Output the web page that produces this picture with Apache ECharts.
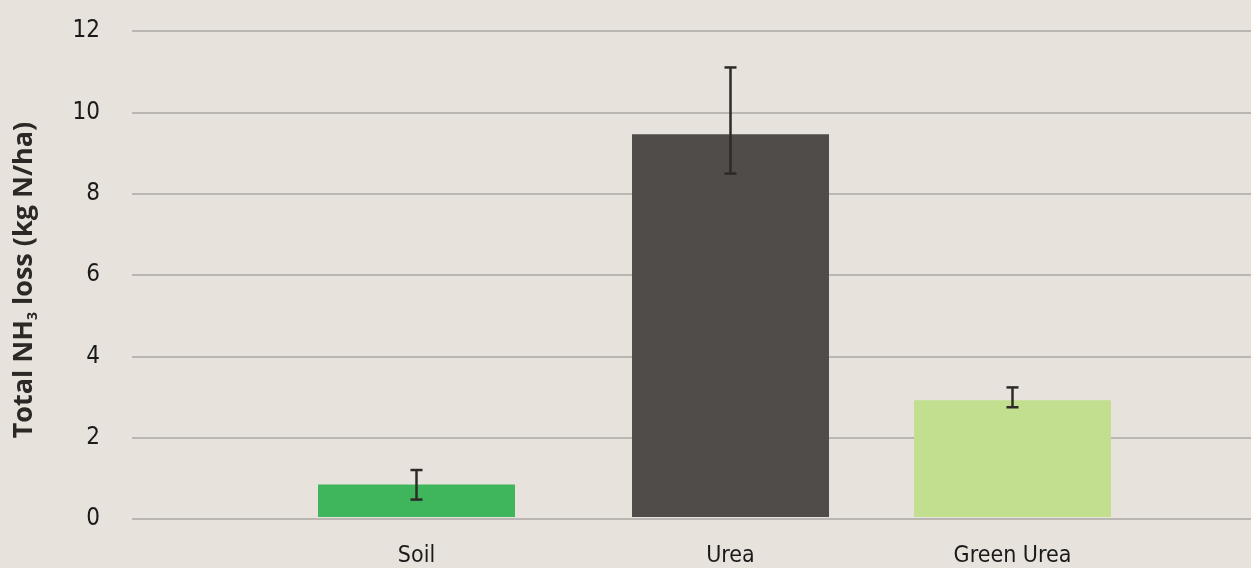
<!DOCTYPE html>
<html>
<head>
<meta charset="utf-8">
<script src="https://cdn.jsdelivr.net/npm/echarts@6/dist/echarts.min.js"></script>
<style>
html,body{margin:0;padding:0;background:#e8e2dc;}
#chart{width:1251px;height:568px;}
</style>
</head>
<body>
<div id="chart"></div>
<script>
// ---- data ----
const categories = ['Soil', 'Urea', 'Green Urea'];
const lossValues = [0.8, 9.45, 2.88];
const errLow = [0.43, 8.48, 2.71];
const errHigh = [1.16, 11.1, 3.2];
const yTicks = [0, 2, 4, 6, 8, 10, 12];

// ---- styles / layout ----
const barColors = ['#3fb65c', '#4f4c49', '#c2de8f'];
const labelFont = "'Liberation Sans Narrow', 'DejaVu Sans Condensed', 'Open Sans', sans-serif";
const plotTop = 31, plotBottom = 49;
const slotLeft = 267.5, slotSpan = 894;        // category band layout
const slotShift = [0, 16, 0];                   // per-category nudge of the band (layout only)

const chart = echarts.init(document.getElementById('chart'), null, {renderer: 'canvas'});

const yMin = yTicks[0], yMax = yTicks[yTicks.length - 1];

const grids = [{left: 132, right: 0, top: plotTop, bottom: plotBottom}];
const xAxes = [{gridIndex: 0, type: 'value', show: false, min: 0, max: 1}];
const yAxes = [{
  gridIndex: 0, type: 'value', min: yMin, max: yMax, interval: 2,
  axisLine: {show: false}, axisTick: {show: false},
  axisLabel: {margin: 32, fontSize: 24, color: '#1a1a1a', fontFamily: labelFont},
  splitLine: {lineStyle: {color: '#aba9a6', width: 1.5}},
  name: '{b|Total NH}{s|3}{b| loss (kg N/ha)}',
  nameLocation: 'middle', nameGap: 92, nameRotate: 90,
  nameTextStyle: {
    padding: [0, 10, 0, 0],
    rich: {
      b: {fontSize: 27, fontWeight: 'bold', color: '#2b2826', fontFamily: "'Open Sans', sans-serif", lineHeight: 32, verticalAlign: 'middle'},
      s: {fontSize: 14, fontWeight: 'bold', color: '#2b2826', fontFamily: "'Open Sans', sans-serif", lineHeight: 32, verticalAlign: 'bottom'}
    }
  }
}];
const series = [];

categories.forEach(function (cat, i) {
  const gi = i + 1;
  grids.push({left: slotLeft + slotShift[i], width: slotSpan, top: plotTop, bottom: plotBottom});
  xAxes.push({
    gridIndex: gi, type: 'category', data: categories,
    axisLine: {show: false}, axisTick: {show: false},
    axisLabel: {
      margin: 28, fontSize: 23, color: '#1a1a1a', fontFamily: labelFont,
      interval: function (idx) { return idx === i; }
    }
  });
  yAxes.push({gridIndex: gi, type: 'value', show: false, min: yMin, max: yMax, interval: 2});
  series.push({
    type: 'bar', xAxisIndex: gi, yAxisIndex: gi, barWidth: 197, z: 2,
    data: categories.map((c, k) => k === i ? {value: lossValues[k], itemStyle: {color: barColors[k]}} : '-')
  });
  series.push({
    type: 'custom', xAxisIndex: gi, yAxisIndex: gi, z: 5,
    data: [[i, errLow[i], errHigh[i]]],
    renderItem: function (params, api) {
      const lo = api.coord([api.value(0), api.value(1)]);
      const hi = api.coord([api.value(0), api.value(2)]);
      const hw = 6;
      const style = {stroke: '#2d2a28', lineWidth: 2.5};
      return {
        type: 'group',
        children: [
          {type: 'line', shape: {x1: lo[0], y1: lo[1], x2: hi[0], y2: hi[1]}, style: style},
          {type: 'line', shape: {x1: lo[0] - hw, y1: lo[1], x2: lo[0] + hw, y2: lo[1]}, style: style},
          {type: 'line', shape: {x1: hi[0] - hw, y1: hi[1], x2: hi[0] + hw, y2: hi[1]}, style: style}
        ]
      };
    }
  });
});

chart.setOption({
  backgroundColor: '#e8e2dc',
  animation: false,
  grid: grids,
  xAxis: xAxes,
  yAxis: yAxes,
  series: series
});
</script>
</body>
</html>
